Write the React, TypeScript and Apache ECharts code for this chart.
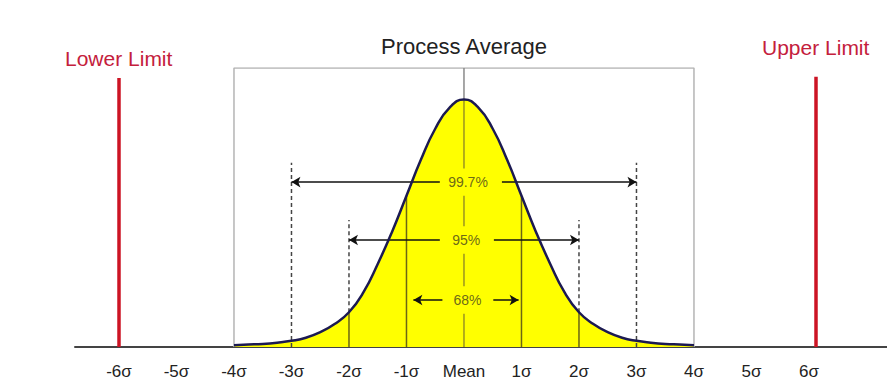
import React, { useEffect, useRef } from "react";
import * as echarts from "echarts";

// sigma positions of the bell curve samples and the read heights (pdf units)
const sigmaX = [
  -4, -3.75, -3.5, -3.25, -3, -2.75, -2.5, -2.25, -2, -1.75, -1.5, -1.25, -1, -0.75, -0.5, -0.25,
  0, 0.25, 0.5, 0.75, 1, 1.25, 1.5, 1.75, 2, 2.25, 2.5, 2.75, 3, 3.25, 3.5, 3.75, 4,
];
const curveY = [
  0.003, 0.004, 0.005, 0.007, 0.01, 0.015, 0.024, 0.037, 0.056, 0.088, 0.134, 0.186, 0.244, 0.302, 0.352, 0.386,
  0.399, 0.386, 0.352, 0.302, 0.244, 0.186, 0.134, 0.088, 0.056, 0.037, 0.024, 0.015, 0.01, 0.007, 0.005, 0.004, 0.003,
];
const tickValues = [-6, -5, -4, -3, -2, -1, 0, 1, 2, 3, 4, 5, 6];
const tickLabels = ["-6σ", "-5σ", "-4σ", "-3σ", "-2σ", "-1σ", "Mean", "1σ", "2σ", "3σ", "4σ", "5σ", "6σ"];
const limits = [-6, 6.12];
const limitTops = [0.434, 0.436];
const boxRange = [-4, 4];
const boxTop = 0.45;
const solidInner = [-2, -1, 1, 2];
const dashedTop = { "-3": 0.297, "-2": 0.205, "2": 0.205, "3": 0.297 } as Record<string, number>;
// arrows: from/to are the arrow tips, gapFrom/gapTo the break left for the label
const arrows = [
  { name: "99.7%", from: -3, to: 3, gapFrom: -0.42, gapTo: 0.66, y: 0.266, labelX: 0.07, heads: true },
  { name: "95%", from: -2, to: 2, gapFrom: -0.42, gapTo: 0.52, y: 0.1726, labelX: 0.04, heads: true },
  { name: "68%", from: -0.88, to: 0.95, gapFrom: -0.375, gapTo: 0.51, y: 0.0758, labelX: 0.06, heads: true },
];
const labelHalfHeight = 0.022;

const valAt = (x: number) => curveY[sigmaX.indexOf(x)];
const FONT = "Liberation Sans, Arial, sans-serif";

export default function App() {
  const ref = useRef<HTMLDivElement>(null);
  useEffect(() => {
    if (!ref.current) return;
    const chart = echarts.init(ref.current, null, { renderer: "svg" });
    const curve = sigmaX.map((x, i) => [x, curveY[i]]);
    const olive = "#6b6614";
    const series: any[] = [];
    const seg = (pts: number[][], lineStyle: any, z: number) =>
      series.push({ type: "line", data: pts, symbol: "none", lineStyle, z, silent: true });

    // yellow area
    series.push({
      type: "line",
      data: curve,
      smooth: true,
      symbol: "none",
      lineStyle: { width: 0 },
      areaStyle: { color: "#ffff00", opacity: 1 },
      z: 1,
      silent: true,
    });
    // box
    seg(
      [
        [boxRange[0], 0],
        [boxRange[0], boxTop],
        [boxRange[1], boxTop],
        [boxRange[1], 0],
      ],
      { color: "#b4b4b4", width: 1.5 },
      2
    );
    // mean line above curve
    seg(
      [
        [0, valAt(0)],
        [0, boxTop],
      ],
      { color: "#8a8a8a", width: 1.5 },
      2
    );
    // mean line below curve, broken around labels
    const ys = arrows.map((a) => a.y).sort((a, b) => a - b);
    let start = 0;
    ys.forEach((y) => {
      seg(
        [
          [0, start],
          [0, y - labelHalfHeight],
        ],
        { color: "#9a9420", width: 1.5 },
        3
      );
      start = y + labelHalfHeight;
    });
    seg(
      [
        [0, start],
        [0, valAt(0)],
      ],
      { color: "#9a9420", width: 1.5 },
      3
    );
    // solid inner lines
    solidInner.forEach((s) =>
      seg(
        [
          [s, 0],
          [s, valAt(s)],
        ],
        { color: olive, width: 1.5 },
        3
      )
    );
    // dashed lines
    Object.keys(dashedTop).forEach((k) => {
      const s = Number(k);
      const bottom = Math.abs(s) === 2 ? valAt(s) : 0;
      seg(
        [
          [s, bottom],
          [s, dashedTop[k]],
        ],
        { color: "#444", width: 1.5, type: [4, 3] },
        3
      );
    });
    // arrows and limit lines
    const arrowLine = { color: "#111", width: 1.5, type: "solid" };
    const mlData: any[] = [];
    arrows.forEach((a) => {
      mlData.push([
        { coord: [a.gapFrom, a.y], symbol: "none", lineStyle: arrowLine },
        { coord: [a.from, a.y], symbol: "arrow" },
      ]);
      mlData.push([
        { coord: [a.gapTo, a.y], symbol: "none", lineStyle: arrowLine },
        { coord: [a.to, a.y], symbol: "arrow" },
      ]);
    });
    limits.forEach((l, i) => {
      mlData.push([
        { coord: [l, 0], symbol: "none", lineStyle: { color: "#cc1424", width: 3.5, type: "solid" } },
        { coord: [l, limitTops[i]], symbol: "none" },
      ]);
    });
    series.push({
      type: "line",
      data: [],
      symbol: "none",
      z: 4,
      silent: true,
      markLine: {
        silent: true,
        symbolSize: [8, 9],
        label: { show: false },
        data: mlData,
        animation: false,
      },
    });
    // curve outline
    series.push({
      type: "line",
      data: curve,
      smooth: true,
      symbol: "none",
      lineStyle: { color: "#1c1a52", width: 2.5 },
      z: 5,
      silent: true,
    });
    // percent labels
    const lbls = arrows.map((a) => ({ value: [a.labelX, a.y], name: a.name }));
    series.push({
      type: "scatter",
      data: lbls,
      symbol: "rect",
      symbolSize: 1,
      itemStyle: { color: "#ffff00" },
      z: 10,
      silent: true,
      label: {
        show: true,
        position: "inside",
        formatter: (p: any) => p.name,
        color: "#45421e",
        fontSize: 14,
        fontFamily: FONT,
      },
    });

    chart.setOption({
      animation: false,
      backgroundColor: "#ffffff",
      grid: { left: 75, right: 0, top: 68, bottom: 43, containLabel: false },
      xAxis: {
        type: "value",
        min: -6.765,
        max: 7.357,
        splitLine: { show: false },
        axisTick: { show: false },
        axisLine: { show: true, onZero: false, lineStyle: { color: "#444", width: 2 } },
        axisLabel: {
          customValues: tickValues,
          formatter: (v: number) => tickLabels[tickValues.indexOf(Math.round(v))] ?? "",
          color: "#222",
          fontSize: 17,
          margin: 16,
          fontFamily: FONT,
          showMinLabel: true,
          showMaxLabel: true,
        },
      },
      yAxis: {
        type: "value",
        min: 0,
        max: boxTop,
        show: false,
        splitLine: { show: false },
      },
      graphic: [
        {
          type: "text",
          left: 381,
          top: 35,
          z: 20,
          style: { text: "Process Average", fill: "#222", font: `22px ${FONT}` },
        },
        {
          type: "text",
          left: 65,
          top: 48,
          z: 20,
          style: { text: "Lower Limit", fill: "#c4203c", font: `21px ${FONT}` },
        },
        {
          type: "text",
          left: 762,
          top: 37,
          z: 20,
          style: { text: "Upper Limit", fill: "#c4203c", font: `21px ${FONT}` },
        },
      ],
      series,
    });
    return () => chart.dispose();
  }, []);
  return (
    <div
      ref={ref}
      style={{ position: "fixed", left: 0, top: 0, width: 887, height: 390, background: "#fff" }}
    />
  );
}
